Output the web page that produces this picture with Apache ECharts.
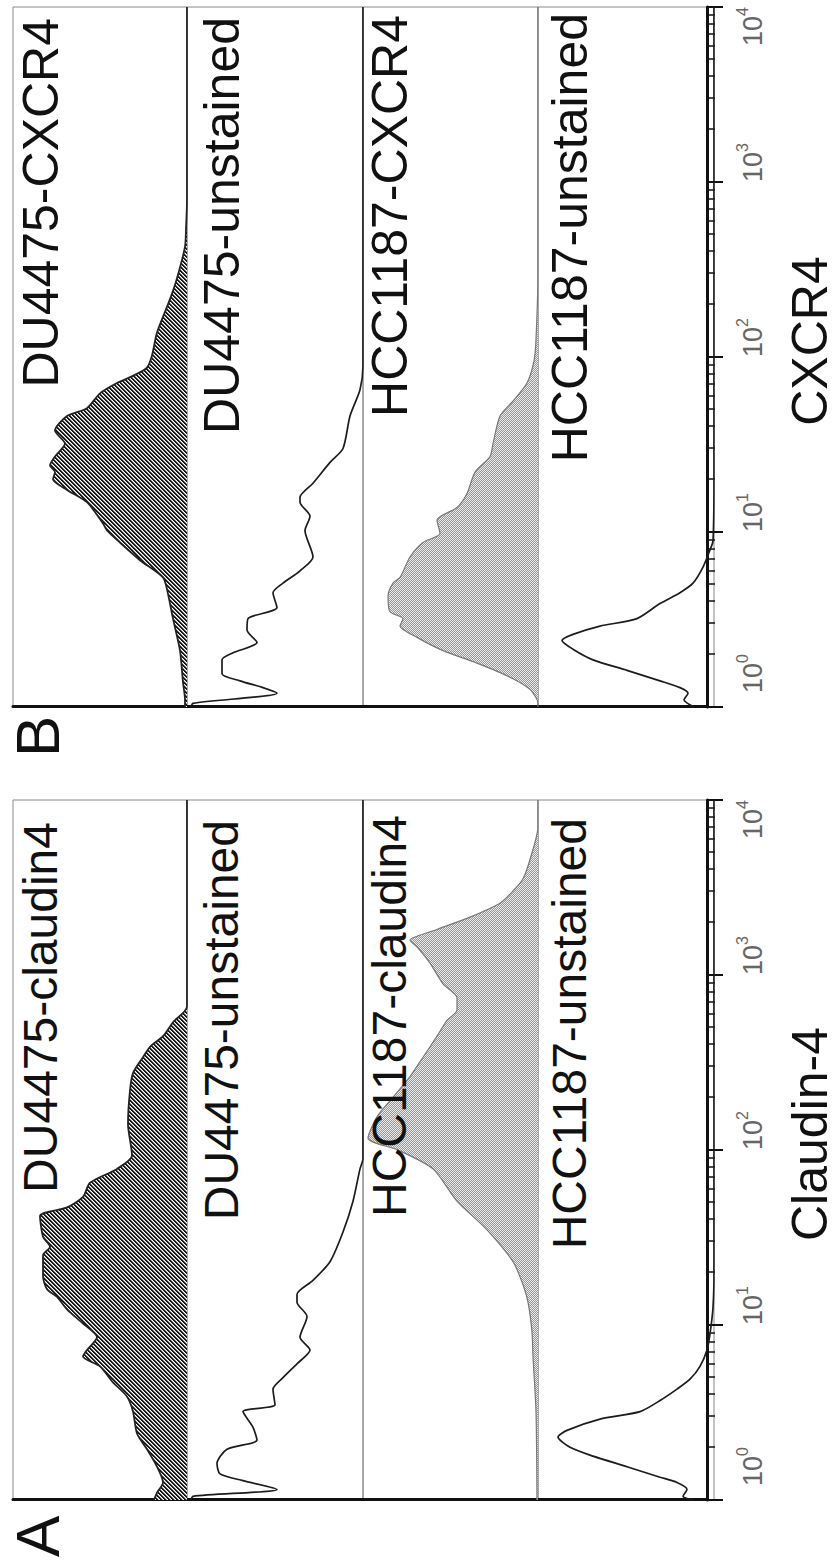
<!DOCTYPE html>
<html>
<head>
<meta charset="utf-8">
<script src="https://cdn.jsdelivr.net/npm/echarts@6/dist/echarts.min.js"></script>
<style>
html,body{margin:0;padding:0;width:840px;height:1564px;overflow:hidden;background:#fff}
#rot{position:absolute;left:0;top:0;width:1564px;height:840px;transform-origin:0 0;transform:translateY(1564px) rotate(-90deg);}
</style>
</head>
<body>
<div id="rot"></div>
<script>
// ---------- data (fluorescence intensity, relative cell count) ----------
const panelLetters = ['A', 'B'];
const axisTitles = ['Claudin-4', 'CXCR4'];
const majorTicks = [1, 10, 100, 1000, 10000];
const majorTickLabels = ['0', '1', '2', '3', '4'];
const minorTicks = [2,3,4,5,6,7,8,9,20,30,40,50,60,70,80,90,200,300,400,500,600,700,800,900,2000,3000,4000,5000,6000,7000,8000,9000];

const stripLabelsA = ['DU4475-claudin4', 'DU4475-unstained', 'HCC1187-claudin4', 'HCC1187-unstained'];
const stripLabelsB = ['DU4475-CXCR4', 'DU4475-unstained', 'HCC1187-CXCR4', 'HCC1187-unstained'];

const du4475Claudin4 = [[1,33],[1.1,30],[1.26,24],[1.55,30],[1.95,40],[2.4,50],[3.2,54],[3.9,60],[4.7,74],[5.8,87],[6.6,104],[7.2,100],[8.5,90],[10.2,104],[12.3,120],[14.5,130],[16,140],[19,144],[25,144],[28,137],[32,144],[42,147],[47,120],[54,104],[65,97],[78,70],[93,55],[141,59],[219,57],[275,54],[339,44],[389,37],[447,24],[537,14],[661,0],[10000,0]];
const du4475UnstainedA = [[1,172],[1.05,170],[1.15,86],[1.29,120],[1.41,143],[1.62,146],[1.95,136],[2.2,106],[2.6,110],[3.2,120],[3.5,88],[4.3,90],[5.0,80],[6.0,66],[7.2,53],[8.5,63],[11.2,56],[13.5,66],[15,66],[18,50],[23,33],[34,20],[51,10],[78,3],[89,0],[10000,0]];
const hcc1187Claudin4 = [[1,1],[3.2,2],[6.6,5],[9.1,6],[13.5,10],[17,15],[23,25],[35,51],[51,81],[78,105],[100,140],[117,170],[155,161],[200,145],[263,128],[339,115],[447,101],[550,91],[631,81],[741,81],[891,95],[1170,108],[1450,121],[1580,128],[1820,101],[2140,68],[2570,38],[3020,25],[3550,15],[4570,8],[7080,0],[10000,0]];
const hcc1187UnstainedA = [[1,20],[1.05,31],[1.15,27],[1.26,37],[1.35,54],[1.55,87],[1.78,121],[2.0,144],[2.29,156],[2.5,147],[2.9,114],[3.2,74],[3.7,54],[4.3,37],[4.9,24],[5.8,14],[7.2,7],[8.9,4],[12.6,1],[20,0],[10000,0]];

const du4475CXCR4 = [[1,2],[1.1,2],[1.38,4],[2.1,7],[3.2,14],[4.7,20],[5.5,24],[6.9,47],[8.7,67],[10.2,80],[11.2,84],[14.8,100],[17.4,120],[20,134],[22,132],[24,137],[27,132],[32,122],[38,132],[46,120],[51,100],[62,87],[71,70],[78,54],[87,40],[102,35],[138,30],[214,17],[282,10],[427,2],[537,1],[794,0],[10000,0]];
const du4475UnstainedB = [[1,172],[1.05,170],[1.2,86],[1.29,100],[1.41,123],[1.55,141],[1.86,141],[2.04,130],[2.34,106],[2.75,116],[3.2,115],[3.7,86],[4.5,90],[5.1,80],[6.0,63],[7.2,50],[10.2,58],[12.3,53],[14.8,63],[15.8,63],[19,50],[25,33],[30,20],[46,13],[65,3],[89,0],[10000,0]];
const hcc1187CXCR4 = [[1,0],[1.05,0],[1.26,8],[1.48,28],[1.78,61],[2.1,95],[2.5,121],[2.9,138],[3.2,135],[3.5,148],[4.3,150],[5.1,145],[5.5,138],[7.2,128],[8.7,115],[9.8,98],[11.7,101],[13.8,81],[16.6,71],[22,63],[27,48],[32,45],[46,38],[56,25],[71,11],[95,4],[126,2],[316,0],[10000,0]];
const hcc1187UnstainedB = [[1,20],[1.1,30],[1.2,26],[1.29,34],[1.41,54],[1.62,87],[1.86,121],[2.14,141],[2.4,152],[2.6,141],[2.9,114],[3.2,77],[3.9,54],[4.5,34],[5.1,21],[6.3,11],[7.9,4],[8.9,1],[20,0],[10000,0]];

const panelSeries = [
  [du4475Claudin4, du4475UnstainedA, hcc1187Claudin4, hcc1187UnstainedA],
  [du4475CXCR4, du4475UnstainedB, hcc1187CXCR4, hcc1187UnstainedB]
];
const stripKinds = ['hatch', 'line', 'dots', 'line'];

// ---------- layout (unrotated frame 1564 x 840, rotated by CSS) ----------
const panelLeft = [64, 857];
const panelWidth = 700;
const stripTop = [13, 187, 363, 538];
const stripBottom = 714;
const labelRight = [[822, 820, 815, 818], [18, 17, 15, 13]];
const labelCapTop = [21, 202, 370, 550];
const labelSize = [48, 50];
const FONT = "'Liberation Sans', Arial, Helvetica, sans-serif";

function makePattern(kind) {
  const n = 4;
  const c = document.createElement('canvas');
  c.width = n; c.height = n;
  const ctx = c.getContext('2d');
  const img = ctx.createImageData(n, n);
  for (let y = 0; y < n; y++) {
    for (let x = 0; x < n; x++) {
      let v = 255;
      if (kind === 'hatch') { if ((x + y) % 4 < 2) v = 25; else if ((x + y) % 4 === 2) v = 170; }
      else { if ((x + y) % 2 === 0) v = 150; else v = 235; }
      const i = (y * n + x) * 4;
      img.data[i] = v; img.data[i + 1] = v; img.data[i + 2] = v; img.data[i + 3] = 255;
    }
  }
  ctx.putImageData(img, 0, 0);
  return { image: c.toDataURL(), repeat: 'repeat', imageWidth: n, imageHeight: n };
}
const hatchPattern = makePattern('hatch');
const dotPattern = makePattern('dots');

const chart = echarts.init(document.getElementById('rot'), null, { renderer: 'svg', width: 1564, height: 840 });

const grids = [], xAxes = [], yAxes = [], series = [], titles = [];

panelLetters.forEach((letter, p) => {
  const left = panelLeft[p];
  const fg = grids.length;
  grids.push({ left: left, width: panelWidth, top: stripTop[0], height: stripBottom - stripTop[0], show: false });
  xAxes.push({
    gridIndex: fg, type: 'log', logBase: 10, min: 1, max: 10000, position: 'bottom',
    name: axisTitles[p], nameLocation: 'middle', nameGap: 78,
    nameTextStyle: { fontSize: 50, color: '#111', fontFamily: FONT, padding: [0, 0, 0, 32] },
    axisLine: { show: true, lineStyle: { color: '#111', width: 3 } },
    axisTick: { show: true, length: 16, lineStyle: { color: '#111', width: 2 } },
    axisLabel: {
      show: true, margin: 27, align: 'left', alignMaxLabel: 'right', color: '#666', fontFamily: FONT,
      formatter: function (v) {
        const idx = majorTicks.indexOf(v);
        const e = idx >= 0 ? majorTickLabels[idx] : String(Math.round(Math.log10(v)));
        return (v === 1 ? '{p| }' : '') + '{b|10}{s|' + e + '}';
      },
      rich: {
        p: { width: 14, fontSize: 26 },
        b: { fontSize: 27, color: '#666', fontFamily: FONT, lineHeight: 32, verticalAlign: 'bottom' },
        s: { fontSize: 16, color: '#666', fontFamily: FONT, verticalAlign: 'top', lineHeight: 16 }
      }
    },
    splitLine: { show: false }, minorTick: { show: false }
  });
  xAxes.push({
    gridIndex: fg, type: 'value', min: 0, max: 4, position: 'bottom',
    axisLine: { show: false },
    axisTick: { show: true, length: 8, customValues: minorTicks.map(v => Math.log10(v)), lineStyle: { color: '#111', width: 1.5 } },
    axisLabel: { show: false }, splitLine: { show: false }
  });
  yAxes.push({
    gridIndex: fg, type: 'value', min: 0, max: 1, position: 'left',
    axisLine: { show: true, lineStyle: { color: '#111', width: 3 } },
    axisTick: { show: false }, axisLabel: { show: false }, splitLine: { show: false }
  });

  const labels = p === 0 ? stripLabelsA : stripLabelsB;
  for (let s = 0; s < 4; s++) {
    const top = stripTop[s];
    const bottom = s < 3 ? stripTop[s + 1] : stripBottom;
    const gi = grids.length;
    grids.push({ left: left, width: panelWidth, top: top, height: bottom - top, show: true, borderColor: '#8a8a8a', borderWidth: 1, backgroundColor: 'transparent' });
    const xi = xAxes.length;
    xAxes.push({ gridIndex: gi, type: 'log', logBase: 10, min: 1, max: 10000, show: false });
    const yi = yAxes.length;
    yAxes.push({ gridIndex: gi, type: 'value', min: 0, max: bottom - top, show: false });
    const kind = stripKinds[s];
    const ser = {
      type: 'line', xAxisIndex: xi, yAxisIndex: yi, data: panelSeries[p][s],
      showSymbol: false, symbol: 'none', smooth: 0.25, clip: true, animation: false,
      name: labels[s]
    };
    if (kind === 'line') {
      ser.lineStyle = { color: '#1c1c1c', width: 1.7 };
    } else if (kind === 'hatch') {
      ser.lineStyle = { color: '#222', width: 1.8 };
      ser.areaStyle = { color: hatchPattern, opacity: 1 };
    } else {
      ser.lineStyle = { color: '#777', width: 1.2 };
      ser.areaStyle = { color: dotPattern, opacity: 1 };
    }
    series.push(ser);

    const fs = labelSize[p];
    titles.push({
      text: labels[s], right: labelRight[p][s], top: labelCapTop[s] - Math.round(fs * 0.1), padding: 0,
      textStyle: { fontSize: fs, fontWeight: 'normal', color: '#111', fontFamily: FONT }
    });
  }
  titles.push({
    text: letter, left: p === 0 ? 7 : 807, top: 6, padding: 0,
    textStyle: { fontSize: 62, fontWeight: 'normal', color: '#111', fontFamily: FONT }
  });
});

chart.setOption({
  animation: false,
  backgroundColor: '#fff',
  title: titles,
  grid: grids,
  xAxis: xAxes,
  yAxis: yAxes,
  series: series
});
</script>
</body>
</html>
